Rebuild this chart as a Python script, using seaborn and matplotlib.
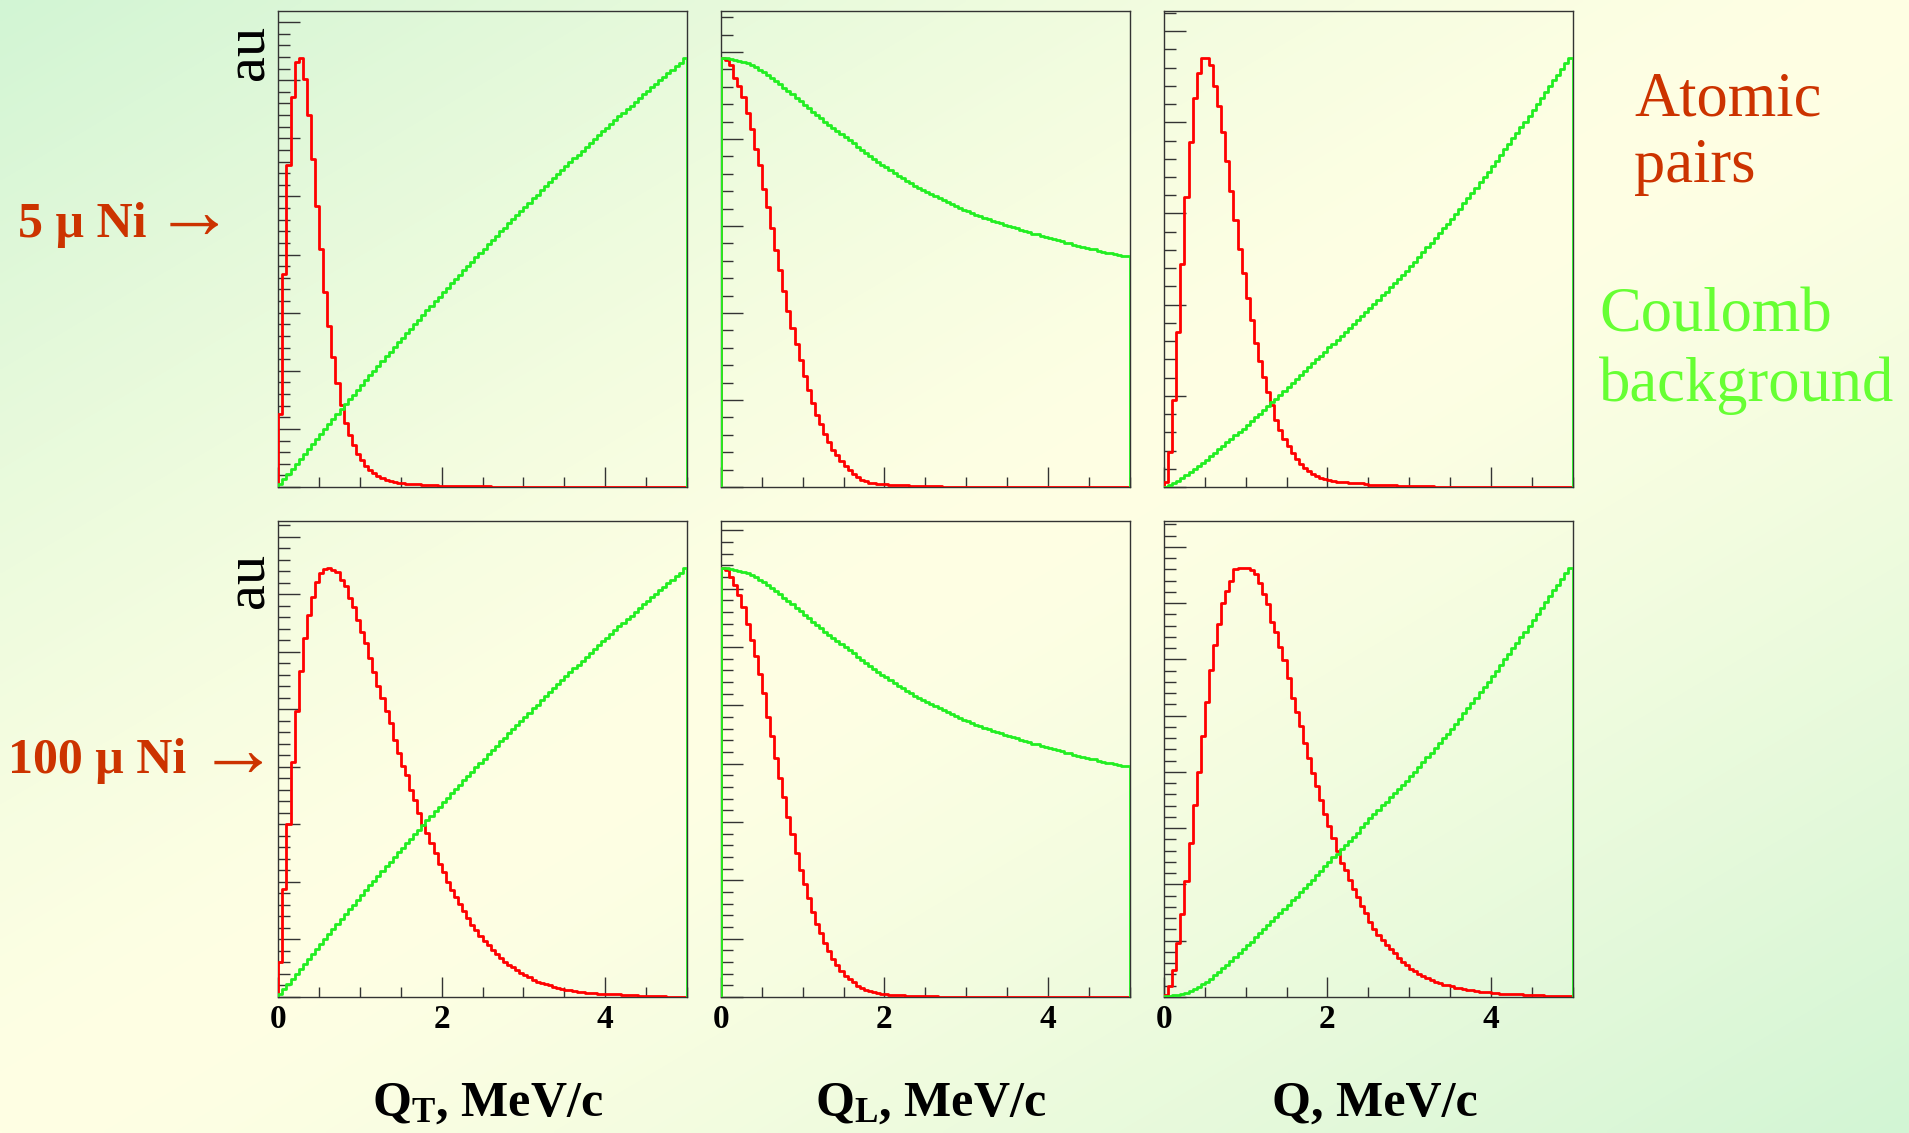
import numpy as np
import pandas as pd
import matplotlib
matplotlib.use("Agg")
import matplotlib.pyplot as plt
from matplotlib.ticker import MultipleLocator, NullFormatter
import seaborn as sns

# ---------------- data (normalised to peak = 1) ----------------
bin_edges = np.linspace(0.0, 5.0, 101)          # 100 bins of 0.05 MeV/c
xtick_values = [0, 2, 4]
xtick_labels = ["0", "2", "4"]

red_qt_5 = [0.171, 0.495, 0.749, 0.908, 0.990, 1.000, 0.950, 0.865, 0.764, 0.654,
            0.554, 0.453, 0.376, 0.303, 0.242, 0.190, 0.149, 0.122, 0.097, 0.078,
            0.062, 0.050, 0.040, 0.033, 0.026, 0.021, 0.017, 0.014, 0.012, 0.010,
            0.009, 0.008, 0.007, 0.006, 0.006, 0.005, 0.004, 0.004, 0.004, 0.003,
            0.003, 0.003, 0.003, 0.003, 0.002, 0.002, 0.002, 0.002, 0.002, 0.002,
            0.002, 0.002, 0.001, 0.001, 0.001, 0.001, 0.001, 0.001, 0.0, 0.0,
            0.0, 0.0, 0.0, 0.0, 0.0, 0.0, 0.0, 0.0, 0.0, 0.0,
            0.0, 0.0, 0.0, 0.0, 0.0, 0.0, 0.0, 0.0, 0.0, 0.0,
            0.0, 0.0, 0.0, 0.0, 0.0, 0.0, 0.0, 0.0, 0.0, 0.0,
            0.0, 0.0, 0.0, 0.0, 0.0, 0.0, 0.0, 0.0, 0.0, 0.0]

red_ql_5 = [1.000, 0.995, 0.982, 0.953, 0.934, 0.908, 0.871, 0.833, 0.788, 0.750,
            0.695, 0.651, 0.604, 0.551, 0.505, 0.457, 0.410, 0.370, 0.334, 0.295,
            0.258, 0.227, 0.196, 0.168, 0.146, 0.123, 0.105, 0.087, 0.074, 0.060,
            0.049, 0.039, 0.031, 0.023, 0.017, 0.013, 0.010, 0.009, 0.007, 0.006,
            0.006, 0.005, 0.005, 0.004, 0.004, 0.004, 0.003, 0.003, 0.003, 0.003,
            0.002, 0.002, 0.002, 0.002, 0.001, 0.001, 0.001, 0.001, 0.001, 0.001,
            0.001, 0.001, 0.001, 0.0, 0.0, 0.0, 0.0, 0.0, 0.0, 0.0,
            0.0, 0.0, 0.0, 0.0, 0.0, 0.0, 0.0, 0.0, 0.0, 0.0,
            0.0, 0.0, 0.0, 0.0, 0.0, 0.0, 0.0, 0.0, 0.0, 0.0,
            0.0, 0.0, 0.0, 0.0, 0.0, 0.0, 0.0, 0.0, 0.0, 0.0]

red_q_5 = [0.012, 0.082, 0.203, 0.361, 0.519, 0.675, 0.804, 0.906, 0.963, 0.998,
           1.000, 0.982, 0.933, 0.888, 0.827, 0.758, 0.690, 0.621, 0.555, 0.499,
           0.439, 0.390, 0.336, 0.294, 0.256, 0.221, 0.190, 0.157, 0.132, 0.112,
           0.095, 0.079, 0.066, 0.054, 0.044, 0.037, 0.031, 0.026, 0.022, 0.018,
           0.016, 0.015, 0.012, 0.012, 0.012, 0.010, 0.010, 0.010, 0.009, 0.006,
           0.005, 0.005, 0.005, 0.004, 0.004, 0.004, 0.004, 0.003, 0.003, 0.003,
           0.003, 0.003, 0.003, 0.002, 0.002, 0.002, 0.001, 0.0, 0.0, 0.0,
           0.0, 0.0, 0.0, 0.0, 0.0, 0.0, 0.0, 0.0, 0.0, 0.0,
           0.0, 0.0, 0.0, 0.0, 0.0, 0.0, 0.0, 0.0, 0.0, 0.0,
           0.0, 0.0, 0.0, 0.0, 0.0, 0.0, 0.0, 0.0, 0.0, 0.0]

red_qt_100 = [0.081, 0.252, 0.403, 0.547, 0.665, 0.760, 0.837, 0.890, 0.931, 0.967,
              0.988, 0.997, 1.000, 0.995, 0.990, 0.971, 0.956, 0.929, 0.908, 0.878,
              0.849, 0.825, 0.789, 0.756, 0.725, 0.696, 0.665, 0.638, 0.599, 0.569,
              0.537, 0.516, 0.483, 0.459, 0.428, 0.401, 0.382, 0.358, 0.335, 0.310,
              0.292, 0.268, 0.250, 0.233, 0.216, 0.201, 0.184, 0.168, 0.155, 0.141,
              0.130, 0.120, 0.109, 0.099, 0.091, 0.081, 0.075, 0.070, 0.062, 0.056,
              0.052, 0.046, 0.040, 0.036, 0.033, 0.030, 0.027, 0.024, 0.022, 0.019,
              0.017, 0.016, 0.014, 0.012, 0.011, 0.010, 0.009, 0.009, 0.008, 0.008,
              0.008, 0.006, 0.006, 0.006, 0.005, 0.005, 0.004, 0.004, 0.003, 0.003,
              0.003, 0.002, 0.002, 0.002, 0.002, 0.0, 0.0, 0.0, 0.0, 0.0]

red_ql_100 = [1.000, 0.995, 0.979, 0.960, 0.936, 0.907, 0.869, 0.832, 0.795, 0.752,
              0.708, 0.652, 0.608, 0.556, 0.510, 0.465, 0.420, 0.380, 0.335, 0.296,
              0.264, 0.230, 0.199, 0.171, 0.149, 0.126, 0.106, 0.089, 0.075, 0.061,
              0.050, 0.042, 0.034, 0.026, 0.020, 0.016, 0.013, 0.011, 0.009, 0.008,
              0.007, 0.005, 0.005, 0.004, 0.004, 0.003, 0.003, 0.002, 0.002, 0.002,
              0.002, 0.002, 0.002, 0.001, 0.001, 0.001, 0.0, 0.0, 0.0, 0.0,
              0.0, 0.0, 0.0, 0.0, 0.0, 0.0, 0.0, 0.0, 0.0, 0.0,
              0.0, 0.0, 0.0, 0.0, 0.0, 0.0, 0.0, 0.0, 0.0, 0.0,
              0.0, 0.0, 0.0, 0.0, 0.0, 0.0, 0.0, 0.0, 0.0, 0.0,
              0.0, 0.0, 0.0, 0.0, 0.0, 0.0, 0.0, 0.0, 0.0, 0.0]

red_q_100 = [0.005, 0.025, 0.064, 0.126, 0.193, 0.271, 0.358, 0.448, 0.524, 0.608,
             0.688, 0.762, 0.820, 0.869, 0.917, 0.946, 0.969, 0.996, 0.998, 1.000,
             0.998, 0.995, 0.985, 0.965, 0.939, 0.915, 0.874, 0.850, 0.816, 0.785,
             0.742, 0.697, 0.663, 0.630, 0.591, 0.556, 0.521, 0.492, 0.458, 0.427,
             0.397, 0.370, 0.339, 0.313, 0.296, 0.273, 0.251, 0.232, 0.211, 0.196,
             0.175, 0.159, 0.145, 0.133, 0.122, 0.112, 0.102, 0.091, 0.081, 0.074,
             0.066, 0.060, 0.054, 0.050, 0.044, 0.040, 0.036, 0.033, 0.029, 0.027,
             0.025, 0.022, 0.020, 0.019, 0.017, 0.016, 0.014, 0.012, 0.012, 0.011,
             0.009, 0.009, 0.008, 0.007, 0.007, 0.006, 0.006, 0.006, 0.005, 0.005,
             0.004, 0.004, 0.004, 0.003, 0.003, 0.003, 0.003, 0.002, 0.002, 0.002]

green_qt = [0.006, 0.018, 0.030, 0.042, 0.054, 0.065, 0.077, 0.089, 0.101, 0.112,
            0.124, 0.135, 0.147, 0.158, 0.170, 0.181, 0.193, 0.204, 0.215, 0.226,
            0.238, 0.249, 0.260, 0.271, 0.282, 0.293, 0.304, 0.315, 0.326, 0.337,
            0.347, 0.358, 0.369, 0.380, 0.390, 0.401, 0.411, 0.422, 0.432, 0.443,
            0.453, 0.464, 0.474, 0.484, 0.494, 0.505, 0.515, 0.525, 0.535, 0.545,
            0.555, 0.565, 0.575, 0.585, 0.595, 0.604, 0.614, 0.624, 0.634, 0.643,
            0.653, 0.662, 0.672, 0.681, 0.691, 0.700, 0.710, 0.719, 0.728, 0.737,
            0.747, 0.756, 0.765, 0.774, 0.783, 0.792, 0.801, 0.810, 0.819, 0.828,
            0.836, 0.845, 0.854, 0.863, 0.871, 0.880, 0.888, 0.897, 0.905, 0.914,
            0.922, 0.931, 0.939, 0.947, 0.955, 0.964, 0.972, 0.980, 0.988, 1.000]

green_ql = [1.000, 0.999, 0.997, 0.995, 0.993, 0.990, 0.987, 0.983, 0.978, 0.972,
            0.966, 0.960, 0.953, 0.946, 0.938, 0.930, 0.922, 0.914, 0.906, 0.898,
            0.890, 0.882, 0.874, 0.866, 0.859, 0.851, 0.843, 0.836, 0.828, 0.821,
            0.814, 0.807, 0.800, 0.792, 0.785, 0.778, 0.771, 0.764, 0.757, 0.750,
            0.744, 0.737, 0.731, 0.725, 0.719, 0.713, 0.707, 0.702, 0.697, 0.692,
            0.687, 0.682, 0.677, 0.672, 0.668, 0.663, 0.659, 0.654, 0.650, 0.646,
            0.642, 0.638, 0.634, 0.630, 0.627, 0.623, 0.620, 0.617, 0.614, 0.611,
            0.608, 0.605, 0.602, 0.599, 0.596, 0.593, 0.590, 0.588, 0.585, 0.582,
            0.580, 0.577, 0.575, 0.572, 0.569, 0.567, 0.564, 0.562, 0.559, 0.557,
            0.555, 0.553, 0.550, 0.548, 0.546, 0.544, 0.542, 0.540, 0.539, 0.537]

green_q_5 = [0.001, 0.004, 0.009, 0.014, 0.020, 0.027, 0.034, 0.041, 0.049, 0.056,
             0.064, 0.072, 0.080, 0.088, 0.096, 0.104, 0.112, 0.120, 0.128, 0.136,
             0.144, 0.153, 0.162, 0.171, 0.179, 0.188, 0.197, 0.206, 0.215, 0.224,
             0.233, 0.242, 0.251, 0.260, 0.269, 0.279, 0.288, 0.297, 0.306, 0.315,
             0.325, 0.334, 0.343, 0.352, 0.361, 0.371, 0.380, 0.389, 0.398, 0.407,
             0.417, 0.426, 0.436, 0.446, 0.455, 0.465, 0.474, 0.484, 0.494, 0.503,
             0.514, 0.525, 0.536, 0.547, 0.558, 0.569, 0.580, 0.591, 0.602, 0.613,
             0.624, 0.636, 0.648, 0.661, 0.673, 0.685, 0.697, 0.709, 0.722, 0.734,
             0.747, 0.760, 0.773, 0.786, 0.799, 0.812, 0.825, 0.838, 0.851, 0.864,
             0.877, 0.891, 0.905, 0.919, 0.933, 0.947, 0.960, 0.973, 0.987, 1.000]

green_q_100 = [0.002, 0.003, 0.004, 0.005, 0.007, 0.010, 0.014, 0.019, 0.024, 0.030,
               0.036, 0.043, 0.051, 0.059, 0.067, 0.075, 0.084, 0.093, 0.102, 0.111,
               0.120, 0.129, 0.139, 0.148, 0.158, 0.167, 0.177, 0.186, 0.196, 0.206,
               0.215, 0.225, 0.234, 0.244, 0.253, 0.263, 0.273, 0.283, 0.294, 0.304,
               0.315, 0.325, 0.334, 0.344, 0.354, 0.364, 0.373, 0.383, 0.395, 0.406,
               0.417, 0.426, 0.436, 0.446, 0.455, 0.465, 0.474, 0.484, 0.494, 0.503,
               0.514, 0.525, 0.536, 0.547, 0.558, 0.569, 0.580, 0.591, 0.602, 0.613,
               0.624, 0.636, 0.648, 0.661, 0.673, 0.685, 0.697, 0.709, 0.722, 0.734,
               0.747, 0.760, 0.773, 0.786, 0.799, 0.812, 0.825, 0.838, 0.851, 0.864,
               0.877, 0.891, 0.905, 0.919, 0.933, 0.947, 0.960, 0.973, 0.987, 1.000]

row_labels = ["5 \u03bc Ni", "100 \u03bc Ni"]
arrow_char = "\u2192"
x_titles = [r"$\mathbf{Q}_{\mathbf{T}}$, MeV/c", r"$\mathbf{Q}_{\mathbf{L}}$, MeV/c", "Q, MeV/c"]
panels_red = [[red_qt_5, red_ql_5, red_q_5], [red_qt_100, red_ql_100, red_q_100]]
panels_green = [[green_qt, green_ql, green_q_5], [green_qt, green_ql, green_q_100]]
ytick_steps = [[0.1353, 0.2026, 0.2123], [0.134, 0.1358, 0.131]]

# ---------------- style ----------------
sns.set_style("ticks")
plt.rcParams['font.family'] = ['Liberation Serif', 'DejaVu Serif']
plt.rcParams['mathtext.fontset'] = 'custom'
plt.rcParams['mathtext.rm'] = 'Liberation Serif'
plt.rcParams['mathtext.bf'] = 'Liberation Serif:bold'
plt.rcParams['mathtext.it'] = 'Liberation Serif:italic'

RED = "#FF0000"
GREEN = "#22EE22"
TXT_RED = "#CC3300"
TXT_GREEN = "#66FF33"
AX_COL = "#333333"
LW = 2.0

W, H = 1909, 1133
fig = plt.figure(figsize=(W / 100, H / 100), dpi=100)

# background diagonal gradient (green corners TL/BR, pale yellow across the anti-diagonal)
bg = fig.add_axes([0, 0, 1, 1], zorder=-10)
gu, gv = np.meshgrid(np.linspace(0, 1, 480), np.linspace(0, 1, 290))
tt = (gu + gv) / 2.0
wgt = np.abs(2 * tt - 1) ** 1.3
c_green = np.array([210, 245, 212]) / 255.0
c_yellow = np.array([255, 255, 228]) / 255.0
img = c_yellow[None, None, :] * (1 - wgt[..., None]) + c_green[None, None, :] * wgt[..., None]
bg.imshow(img, extent=[0, 1, 0, 1], origin='upper', aspect='auto', interpolation='bilinear')
bg.set_axis_off()

centers = (bin_edges[:-1] + bin_edges[1:]) / 2.0
lefts = [278.3, 721.0, 1164.0]
tops = [10.7, 520.7]
pw, ph = 408.5, 476.3


def draw_hist(ax, vals, color, z):
    df = pd.DataFrame({"q": centers, "w": np.asarray(vals, dtype=float)})
    sns.histplot(data=df, x="q", weights="w", bins=list(bin_edges), element="step",
                 fill=False, color=color, linewidth=LW, ax=ax, zorder=z)
    ax.vlines([bin_edges[0], bin_edges[-1]], 0, [vals[0], vals[-1]], colors=color,
              linewidth=LW, zorder=z)


for r in range(2):
    for c in range(3):
        ax = fig.add_axes([lefts[c] / W, 1 - (tops[r] + ph) / H, pw / W, ph / H])
        ax.set_facecolor("none")
        draw_hist(ax, panels_red[r][c], RED, 3)
        draw_hist(ax, panels_green[r][c], GREEN, 4)
        ax.set_xlim(0, 5)
        ax.set_ylim(0, 1.109)
        ax.set_xlabel("")
        ax.set_ylabel("")
        step = ytick_steps[r][c]
        ax.yaxis.set_major_locator(MultipleLocator(step))
        ax.yaxis.set_minor_locator(MultipleLocator(step / 5))
        ax.yaxis.set_major_formatter(NullFormatter())
        if r == 1:
            ax.set_xticks(xtick_values, labels=xtick_labels, fontsize=24, fontweight='bold')
        else:
            ax.set_xticks(xtick_values, labels=["", "", ""])
        ax.xaxis.set_minor_locator(MultipleLocator(0.5))
        ax.tick_params(axis='x', which='major', direction='in', length=14.4, width=1.0,
                       color=AX_COL, pad=5, labelcolor='black')
        ax.tick_params(axis='x', which='minor', direction='in', length=7.2, width=1.0, color=AX_COL)
        ax.tick_params(axis='y', which='major', direction='in', length=15.6, width=1.0, color=AX_COL)
        ax.tick_params(axis='y', which='minor', direction='in', length=8.4, width=1.0, color=AX_COL)
        for s in ax.spines.values():
            s.set_visible(True)
            s.set_color(AX_COL)
            s.set_linewidth(1.0)

# ---------------- texts ----------------
fig.text(250 / W, 1 - 52 / H, "au", rotation=90, ha='center', va='center', fontsize=42, color='black')
fig.text(250 / W, 1 - 580 / H, "au", rotation=90, ha='center', va='center', fontsize=42, color='black')

fig.text(18 / W, 1 - 237 / H, row_labels[0], ha='left', va='baseline', fontsize=36,
         fontweight='bold', color=TXT_RED)
fig.text(8.5 / W, 1 - 773 / H, row_labels[1], ha='left', va='baseline', fontsize=36,
         fontweight='bold', color=TXT_RED)
fig.text(193.5 / W, 1 - 218 / H, arrow_char, ha='center', va='center', fontsize=58,
         family='Liberation Serif', color=TXT_RED)
fig.text(237.5 / W, 1 - 756 / H, arrow_char, ha='center', va='center', fontsize=58,
         family='Liberation Serif', color=TXT_RED)

fig.text(1634 / W, 1 - 115 / H, "Atomic", ha='left', va='baseline', fontsize=45, color=TXT_RED)
fig.text(1634 / W, 1 - 182 / H, "pairs", ha='left', va='baseline', fontsize=45, color=TXT_RED)
fig.text(1599 / W, 1 - 331 / H, "Coulomb", ha='left', va='baseline', fontsize=45, color=TXT_GREEN)
fig.text(1599 / W, 1 - 401 / H, "background", ha='left', va='baseline', fontsize=45, color=TXT_GREEN)

for xc, lab in zip([488, 931, 1375], x_titles):
    fig.text(xc / W, 1 - 1116 / H, lab, ha='center', va='baseline', fontsize=36,
             fontweight='bold', color='black')

fig.savefig("out.png", dpi=100)
